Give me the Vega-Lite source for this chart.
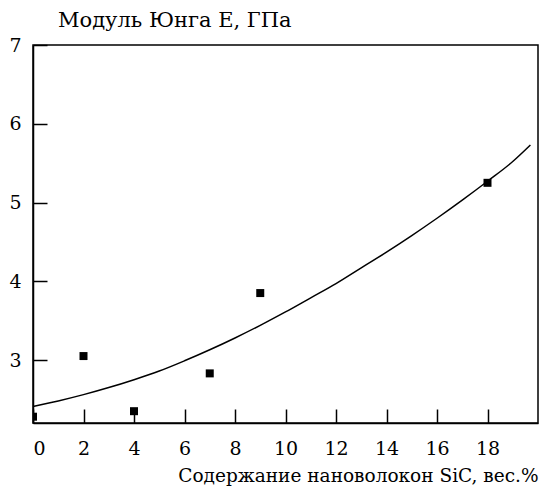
{
  "$schema": "https://vega.github.io/schema/vega-lite/v6.json",
  "autosize": "none",
  "width": 505,
  "height": 378,
  "padding": {"left": 33, "top": 45, "right": 8, "bottom": 67},
  "background": "white",
  "config": {
    "view": {"stroke": "black", "strokeWidth": 1.5},
    "font": "DejaVu Serif",
    "axis": {
      "domainColor": "black",
      "domainWidth": 1.5,
      "tickColor": "black",
      "tickWidth": 1.5,
      "labelColor": "black",
      "titleColor": "black",
      "labelFont": "DejaVu Serif",
      "titleFont": "DejaVu Serif",
      "labelFontSize": 19,
      "titleFontSize": 18.5,
      "titleFontWeight": "normal",
      "grid": false
    }
  },
  "title": {
    "text": "Модуль Юнга E, ГПа",
    "anchor": "start",
    "frame": "group",
    "dx": 25,
    "offset": 5,
    "font": "DejaVu Serif",
    "fontSize": 21,
    "fontWeight": "normal",
    "color": "black"
  },
  "datasets": {
    "points": [
      {"x": 0, "y": 2.28},
      {"x": 2, "y": 3.05},
      {"x": 4, "y": 2.35},
      {"x": 7, "y": 2.83},
      {"x": 9, "y": 3.85},
      {"x": 18, "y": 5.25}
    ],
    "curve": [
      {"x": 0, "y": 2.41},
      {"x": 1, "y": 2.48},
      {"x": 2, "y": 2.56},
      {"x": 3, "y": 2.65},
      {"x": 4, "y": 2.75},
      {"x": 5, "y": 2.86},
      {"x": 6, "y": 2.99},
      {"x": 7, "y": 3.13},
      {"x": 8, "y": 3.28},
      {"x": 9, "y": 3.44},
      {"x": 10, "y": 3.61},
      {"x": 11, "y": 3.79},
      {"x": 12, "y": 3.97},
      {"x": 13, "y": 4.17},
      {"x": 14, "y": 4.37},
      {"x": 15, "y": 4.58},
      {"x": 16, "y": 4.8},
      {"x": 17, "y": 5.03},
      {"x": 18, "y": 5.27},
      {"x": 19, "y": 5.52},
      {"x": 19.7, "y": 5.73}
    ]
  },
  "layer": [
    {
      "data": {"name": "curve"},
      "mark": {"type": "line", "color": "black", "strokeWidth": 1.5, "interpolate": "monotone"},
      "encoding": {
        "x": {
          "field": "x",
          "type": "quantitative",
          "scale": {"domain": [0, 20], "nice": false},
          "axis": {
            "values": [0, 2, 4, 6, 8, 10, 12, 14, 16, 18],
            "format": "d",
            "tickSize": -14,
            "labelPadding": 30,
            "title": "Содержание нановолокон SiC, вес.%",
            "titleAnchor": "end",
            "titlePadding": 8
          }
        },
        "y": {
          "field": "y",
          "type": "quantitative",
          "scale": {"domain": [2.2, 7], "nice": false, "zero": false},
          "axis": {
            "values": [3, 4, 5, 6, 7],
            "format": "d",
            "tickSize": -14,
            "labelPadding": 26,
            "title": null
          }
        }
      }
    },
    {
      "data": {"name": "points"},
      "mark": {"type": "square", "color": "black", "filled": true, "opacity": 1, "size": 64, "clip": true},
      "encoding": {
        "x": {"field": "x", "type": "quantitative"},
        "y": {"field": "y", "type": "quantitative"}
      }
    }
  ]
}
